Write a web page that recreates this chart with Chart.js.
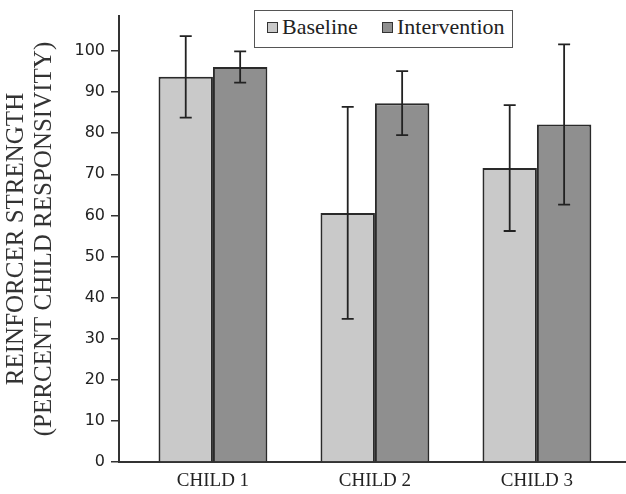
<!DOCTYPE html>
<html>
<head>
<meta charset="utf-8">
<script src="https://cdn.jsdelivr.net/npm/chart.js@4"></script>
<style>
  html, body { margin: 0; padding: 0; background: #fff; }
  #wrap { position: relative; width: 626px; height: 494px; }
  #legend {
    position: absolute; left: 254px; top: 10px; width: 259px; height: 38px;
    box-sizing: border-box; border: 1.5px solid #555; background: #fff;
    font-family: "Liberation Serif", serif; font-size: 22px; color: #222;
  }
  #legend .sw { position: absolute; top: 11px; width: 9px; height: 9px; border: 1.5px solid #333; }
  #legend .lb { position: absolute; top: 4px; line-height: 24px; }
</style>
</head>
<body>
<div id="wrap">
  <canvas id="chart" width="626" height="494"></canvas>
  <div id="legend">
    <span class="sw" style="left:12px;background:#c9c9c9"></span><span class="lb" style="left:27px">Baseline</span>
    <span class="sw" style="left:127px;background:#8f8f8f"></span><span class="lb" style="left:142px">Intervention</span>
  </div>
</div>
<script>
// --- data ---
const categories = ['CHILD 1', 'CHILD 2', 'CHILD 3'];
const baseline = [93.7, 60.6, 71.5];
const baselineSD = [9.9, 25.8, 15.3];
const intervention = [96.1, 87.3, 82.1];
const interventionSD = [3.8, 7.8, 19.5];
const yTicks = [0, 10, 20, 30, 40, 50, 60, 70, 80, 90, 100];

const serif = '"Liberation Serif", "Times New Roman", serif';
const sans = '"DejaVu Sans", sans-serif';

// draws the +/- error bars at the centre of every bar
const errorBars = {
    id: 'errorBars',
    afterDatasetsDraw(chart) {
        const ctx = chart.ctx;
        const y = chart.scales.y;
        ctx.save();
        ctx.strokeStyle = '#222';
        ctx.lineWidth = 1.8;
        chart.data.datasets.forEach((ds, di) => {
            const meta = chart.getDatasetMeta(di);
            meta.data.forEach((bar, i) => {
                const v = ds.data[i].y, e = ds.sd[i];
                const top = y.getPixelForValue(v + e);
                const bot = y.getPixelForValue(v - e);
                ctx.beginPath();
                ctx.moveTo(bar.x, top); ctx.lineTo(bar.x, bot);
                ctx.moveTo(bar.x - 6, top); ctx.lineTo(bar.x + 6, top);
                ctx.moveTo(bar.x - 6, bot); ctx.lineTo(bar.x + 6, bot);
                ctx.stroke();
            });
        });
        ctx.restore();
    }
};

const toPoints = vals => vals.map((v, i) => ({ x: i + 1, y: v }));

new Chart(document.getElementById('chart'), {
    type: 'bar',
    data: {
        datasets: [
            { label: 'Baseline', data: toPoints(baseline), sd: baselineSD,
              backgroundColor: '#c9c9c9', borderColor: '#2a2a2a', borderWidth: 2 },
            { label: 'Intervention', data: toPoints(intervention), sd: interventionSD,
              backgroundColor: '#8f8f8f', borderColor: '#2a2a2a', borderWidth: 2 }
        ]
    },
    options: {
        responsive: false,
        animation: false,
        devicePixelRatio: 1,
        categoryPercentage: 0.672,
        barPercentage: 1,
        layout: { padding: { top: 16, left: 0, right: 0, bottom: 0 } },
        plugins: { legend: { display: false }, tooltip: { enabled: false } },
        scales: {
            x: {
                type: 'linear',
                offset: false,
                min: 0.42,
                max: 3.55,
                afterBuildTicks: s => { s.ticks = categories.map((c, i) => ({ value: i + 1 })); },
                afterFit: s => { s.height = 32; },
                ticks: {
                    callback: v => categories[v - 1],
                    font: { family: serif, size: 19 },
                    color: '#222',
                    padding: 8,
                    maxRotation: 0
                },
                grid: { display: false, drawTicks: false },
                border: { display: true, color: '#333', width: 2 }
            },
            y: {
                min: 0,
                max: 108.5,
                afterBuildTicks: s => { s.ticks = yTicks.map(v => ({ value: v })); },
                afterFit: s => { s.width = 119; },
                ticks: {
                    font: { family: sans, size: 16 },
                    color: '#222',
                    padding: 6
                },
                grid: { drawOnChartArea: false, drawTicks: true, tickLength: 8, color: '#333', lineWidth: 1.5 },
                border: { display: true, color: '#333', width: 2 },
                title: {
                    display: true,
                    text: ['REINFORCER STRENGTH', '(PERCENT CHILD RESPONSIVITY)'],
                    font: { family: serif, size: 25, lineHeight: 1.1 },
                    color: '#333',
                    padding: { top: 3, bottom: 0 }
                }
            }
        }
    },
    plugins: [errorBars]
});
</script>
</body>
</html>
